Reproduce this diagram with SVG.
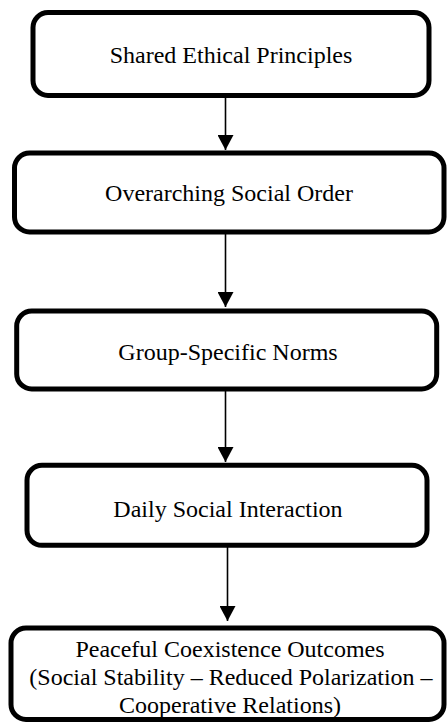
<svg xmlns="http://www.w3.org/2000/svg" width="448" height="723" viewBox="0 0 448 723">
<style>
.box{fill:#fff;stroke:#000;stroke-width:5}
.lbl{font-family:"Liberation Serif","Times New Roman",serif;font-size:24px;fill:#000;text-anchor:middle}
.conn{stroke:#000;stroke-width:1.6;fill:none}
</style>
<defs>
<marker id="ah" markerUnits="userSpaceOnUse" markerWidth="16" markerHeight="16" refX="15" refY="8" orient="auto">
<path d="M0,0 L15,8 L0,16 z" fill="#000"/>
</marker>
</defs>
<rect width="448" height="723" fill="#fff"/>
<g id="connectors">
<line class="conn" x1="225.5" y1="97" x2="225.5" y2="150" marker-end="url(#ah)"/>
<line class="conn" x1="225.5" y1="234" x2="225.5" y2="307" marker-end="url(#ah)"/>
<line class="conn" x1="225.5" y1="391" x2="225.5" y2="462" marker-end="url(#ah)"/>
<line class="conn" x1="227.5" y1="547" x2="227.5" y2="621" marker-end="url(#ah)"/>
</g>
<g id="n1">
<rect class="box" x="33" y="12.5" width="396" height="83" rx="15"/>
<text class="lbl" x="231" y="63">Shared Ethical Principles</text>
</g>
<g id="n2">
<rect class="box" x="14.5" y="153" width="429.5" height="79" rx="15"/>
<text class="lbl" x="229" y="201">Overarching Social Order</text>
</g>
<g id="n3">
<rect class="box" x="16.7" y="311" width="420" height="78" rx="15"/>
<text class="lbl" x="228" y="360">Group-Specific Norms</text>
</g>
<g id="n4">
<rect class="box" x="27" y="465.3" width="400" height="80" rx="15"/>
<text class="lbl" x="228" y="517">Daily Social Interaction</text>
</g>
<g id="n5">
<rect class="box" x="11" y="628" width="433" height="91.5" rx="15"/>
<text class="lbl" x="230" y="657">Peaceful Coexistence Outcomes</text>
<text class="lbl" x="231" y="685">(Social Stability – Reduced Polarization –</text>
<text class="lbl" x="230" y="713">Cooperative Relations)</text>
</g>
</svg>
